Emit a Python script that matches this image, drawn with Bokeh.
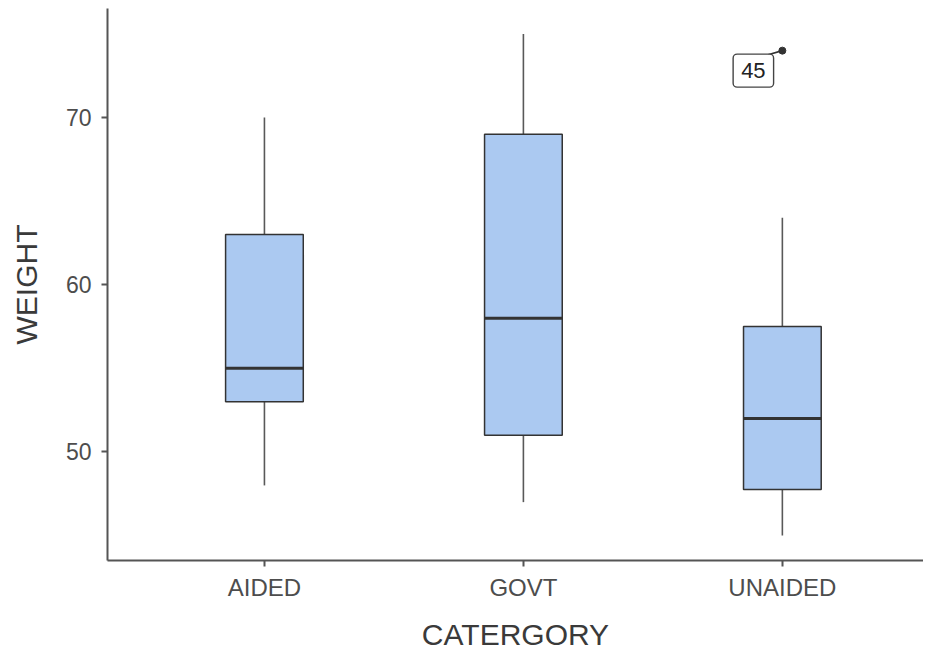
from bokeh.plotting import figure
from bokeh.models import Range1d, FixedTicker, Label, ColumnDataSource
from bokeh.embed import file_html
from bokeh.resources import INLINE

categories = ["AIDED", "GOVT", "UNAIDED"]
lower = [48, 47, 45]
q1 = [53, 51, 47.75]
median = [55, 58, 52]
q3 = [63, 69, 57.5]
upper = [70, 75, 64]
outlier_cat = ["UNAIDED"]
outlier_val = [74]
outlier_id = ["45"]

BOX_W = 0.3
xs = [i + 1 for i in range(len(categories))]
src = ColumnDataSource(dict(
    x=xs, lower=lower, q1=q1, median=median, q3=q3, upper=upper,
    xl=[x - BOX_W / 2 for x in xs], xr=[x + BOX_W / 2 for x in xs],
))

p = figure(frame_width=816, frame_height=552, output_backend="svg", toolbar_location=None,
           x_range=Range1d(0.394, 3.545), y_range=Range1d(43.51, 76.52),
           min_border_left=107, min_border_right=0, min_border_top=8, min_border_bottom=10)
p.outline_line_color = None
p.grid.grid_line_color = None
p.background_fill_color = "white"

# whiskers
p.segment(x0="x", y0="q3", x1="x", y1="upper", source=src, line_color="#595959", line_width=1.6)
p.segment(x0="x", y0="q1", x1="x", y1="lower", source=src, line_color="#595959", line_width=1.6)
# boxes
p.vbar(x="x", width=BOX_W, bottom="q1", top="q3", source=src,
       fill_color="#abc9f1", line_color="#333333", line_width=1.5)
# medians
p.segment(x0="xl", y0="median", x1="xr", y1="median", source=src, line_color="#333333", line_width=3)

# outlier
ox = [categories.index(c) + 1 for c in outlier_cat]
p.segment(x0=ox, y0=outlier_val, x1=[x - 0.055 for x in ox], y1=[v - 0.25 for v in outlier_val],
          line_color="#333333", line_width=1.6)
p.scatter(x=ox, y=outlier_val, size=7, color="#333333")
for x, v, t in zip(ox, outlier_val, outlier_id):
    p.add_layout(Label(x=x, y=v, x_units="data", y_units="data", text=t,
                       x_offset=-29, y_offset=-20, text_align="center", text_baseline="middle",
                       text_font="Liberation Sans", text_font_size="22px", text_color="#222222",
                       background_fill_color="white", border_line_color="#444444",
                       border_line_width=1.4, padding=(8, 9), border_radius=4))

# axes
p.xaxis.ticker = FixedTicker(ticks=xs)
p.xaxis.major_label_overrides = {x: c for x, c in zip(xs, categories)}
p.yaxis.ticker = FixedTicker(ticks=[50, 60, 70])
for ax in (p.xaxis[0], p.yaxis[0]):
    ax.axis_line_color = "#555555"
    ax.axis_line_width = 2
    ax.major_tick_line_color = "#555555"
    ax.major_tick_line_width = 2
    ax.major_tick_out = 6
    ax.major_tick_in = 0
    ax.minor_tick_line_color = None
    ax.major_label_text_font = "Liberation Sans"
    ax.major_label_text_color = "#4d4d4d"
    ax.axis_label_text_font = "Liberation Sans"
    ax.axis_label_text_font_size = "30px"
    ax.axis_label_text_font_style = "normal"
    ax.axis_label_text_color = "#3a3a3a"
p.xaxis.major_label_text_font_size = "24px"
p.yaxis.major_label_text_font_size = "23px"
p.xaxis.major_label_standoff = 7
p.yaxis.major_label_standoff = 10
p.xaxis.axis_label = "CATERGORY"
p.yaxis.axis_label = "WEIGHT"
p.xaxis.axis_label_standoff = 14
p.yaxis.axis_label_standoff = 20

open("out.html", "w").write(file_html(p, INLINE))
